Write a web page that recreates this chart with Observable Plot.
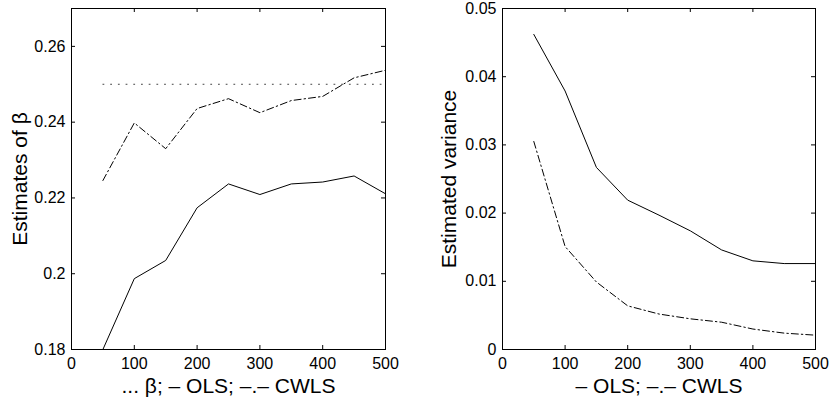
<!DOCTYPE html>
<html>
<head>
<meta charset="utf-8">
<script src="https://cdn.jsdelivr.net/npm/d3@7"></script>
<script src="https://cdn.jsdelivr.net/npm/@observablehq/plot@0.6"></script>
<style>
  html, body { margin: 0; padding: 0; background: #fff; }
  #wrap { display: flex; width: 829px; height: 402px; }
  svg { font-family: "Liberation Sans", Arial, Helvetica, sans-serif; }
</style>
</head>
<body>
<div id="wrap"></div>
<script>
// Sample sizes
const n = [50, 100, 150, 200, 250, 300, 350, 400, 450, 500];
// Left panel: estimates of beta
const betaOLS  = [0.1800, 0.1987, 0.2035, 0.2174, 0.2237, 0.2209, 0.2237, 0.2242, 0.2258, 0.2211];
const betaCWLS = [0.2246, 0.2398, 0.2330, 0.2436, 0.2462, 0.2425, 0.2457, 0.2468, 0.2517, 0.2537];
const trueBeta = [0.25, 0.25];
const trueBetaN = [50, 500];
// Right panel: estimated variance
const varOLS  = [0.0462, 0.0379, 0.0267, 0.0219, 0.0197, 0.0174, 0.0146, 0.0130, 0.0126, 0.0126];
const varCWLS = [0.0305, 0.0151, 0.0099, 0.0064, 0.0052, 0.0045, 0.0040, 0.0030, 0.0024, 0.0021];
// Ticks and labels
const xTicks = [0, 100, 200, 300, 400, 500];
const yTicksLeft = [0.18, 0.20, 0.22, 0.24, 0.26];
const yTicksRight = [0, 0.01, 0.02, 0.03, 0.04, 0.05];
const xLabelLeft = "... β; – OLS; –.– CWLS";
const yLabelLeft = "Estimates of β";
const xLabelRight = "– OLS; –.– CWLS";
const yLabelRight = "Estimated variance";

const fmt = d => `${+d.toFixed(4)}`;
const DASHDOT = "7,3,1.5,3";

function panel({width, marginLeft, marginRight, yDomain, yTicks, series, extra, xLabel, yLabel, yLabelDx}) {
  const height = 402, marginTop = 8, marginBottom = 53;
  const ph = height - marginTop - marginBottom;
  const pw = width - marginLeft - marginRight;
  const T = 4;
  return Plot.plot({
    width, height, marginLeft, marginRight, marginTop, marginBottom,
    style: {fontFamily: '"Liberation Sans", Arial, Helvetica, sans-serif', background: "#fff", color: "#000"},
    x: {domain: [0, 500]},
    y: {domain: yDomain},
    marks: [
      ...extra,
      ...series.map(s => Plot.line(n.map((x, i) => ({x, y: s.values[i]})), {
        x: "x", y: "y", stroke: "#000", strokeWidth: 1, strokeDasharray: s.dash, clip: true
      })),
      // inward ticks on all four sides
      Plot.tickX(xTicks, {x: d => d, insetTop: ph - T, stroke: "#000"}),
      Plot.tickX(xTicks, {x: d => d, insetBottom: ph - T, stroke: "#000"}),
      Plot.tickY(yTicks, {y: d => d, insetRight: pw - T, stroke: "#000"}),
      Plot.tickY(yTicks, {y: d => d, insetLeft: pw - T, stroke: "#000"}),
      Plot.axisX(xTicks, {tickSize: 0, tickPadding: 8, tickFormat: fmt, fontSize: 16, label: null}),
      Plot.axisY(yTicks, {tickSize: 0, tickPadding: 6, tickFormat: fmt, fontSize: 16, label: null}),
      Plot.frame({stroke: "#000", strokeWidth: 1}),
      Plot.text([xLabel], {text: d => d, frameAnchor: "bottom", lineAnchor: "middle", textAnchor: "middle", dy: 37, fontSize: 21, fill: "#000"}),
      Plot.text([yLabel], {text: d => d, frameAnchor: "left", lineAnchor: "middle", textAnchor: "middle", rotate: -90, dx: yLabelDx, fontSize: 21, fill: "#000"})
    ]
  });
}

const left = panel({
  width: 420, marginLeft: 71, marginRight: 35,
  yDomain: [0.18, 0.27], yTicks: yTicksLeft,
  series: [{values: betaOLS, dash: null}, {values: betaCWLS, dash: DASHDOT}],
  extra: [Plot.line(trueBetaN.map((x, i) => ({x, y: trueBeta[i]})), {x: "x", y: "y", stroke: "#444", strokeWidth: 1, strokeDasharray: "1,6.7"})],
  xLabel: xLabelLeft, yLabel: yLabelLeft, yLabelDx: -51
});
const right = panel({
  width: 409, marginLeft: 82, marginRight: 14,
  yDomain: [0, 0.05], yTicks: yTicksRight,
  series: [{values: varOLS, dash: null}, {values: varCWLS, dash: DASHDOT}],
  extra: [],
  xLabel: xLabelRight, yLabel: yLabelRight, yLabelDx: -53
});
document.getElementById("wrap").append(left, right);
</script>
</body>
</html>
